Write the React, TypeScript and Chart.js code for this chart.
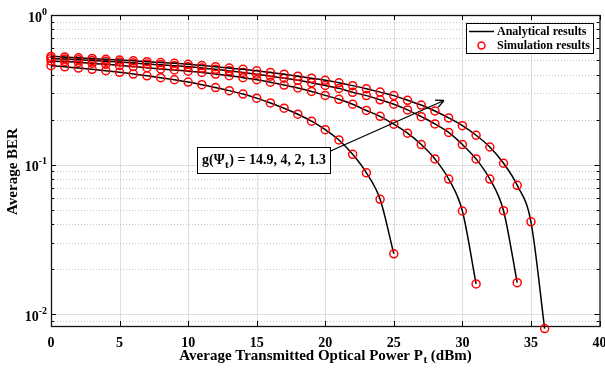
import React, { useEffect, useRef } from 'react';
import { Chart, registerables } from 'chart.js';

Chart.register(...registerables);

// Transmitted optical power (dBm)
const powers = [
  0, 1, 2, 3, 4, 5, 6, 7, 8, 9, 10, 11, 12, 13, 14, 15, 16, 17, 18, 19, 20,
  21, 22, 23, 24, 25, 26, 27, 28, 29, 30, 31, 32, 33, 34, 35, 36,
];

// Average BER for g(Psi_t) = 14.9
const ber149 = [
  0.528, 0.524, 0.517, 0.512, 0.505, 0.5, 0.494, 0.487, 0.481, 0.475, 0.468,
  0.459, 0.451, 0.442, 0.433, 0.423, 0.413, 0.402, 0.39, 0.378, 0.366, 0.352,
  0.337, 0.321, 0.305, 0.289, 0.269, 0.25, 0.228, 0.205, 0.182, 0.157, 0.131,
  0.102, 0.0726, 0.0414, 0.008,
];
// g = 4
const ber4 = [
  0.512, 0.508, 0.502, 0.496, 0.49, 0.484, 0.477, 0.471, 0.464, 0.458, 0.451,
  0.442, 0.433, 0.423, 0.413, 0.402, 0.39, 0.378, 0.366, 0.352, 0.338, 0.323,
  0.304, 0.289, 0.271, 0.253, 0.232, 0.209, 0.187, 0.164, 0.136, 0.109, 0.08,
  0.0491, 0.0162,
];
// g = 2
const ber2 = [
  0.492, 0.488, 0.482, 0.475, 0.468, 0.46, 0.452, 0.444, 0.436, 0.429, 0.421,
  0.413, 0.403, 0.393, 0.381, 0.369, 0.355, 0.34, 0.325, 0.308, 0.29, 0.273,
  0.253, 0.23, 0.21, 0.186, 0.162, 0.136, 0.109, 0.08, 0.0489, 0.0159,
];
// g = 1.3
const ber13 = [
  0.458, 0.45, 0.442, 0.433, 0.424, 0.414, 0.403, 0.392, 0.381, 0.369, 0.356,
  0.342, 0.327, 0.312, 0.296, 0.278, 0.258, 0.238, 0.217, 0.195, 0.171, 0.146,
  0.117, 0.088, 0.0585, 0.0253,
];

const seriesList = [ber149, ber4, ber2, ber13];

const xTickValues = [0, 5, 10, 15, 20, 25, 30, 35, 40];
const yDecadeValues = [1, 0.1, 0.01];
const yDecadeExponents = ['0', '-1', '-2'];

const legendLabels = ['Analytical results', 'Simulation results'];
const annotationPrefix = 'g(Ψ';
const annotationSub = 't';
const annotationSuffix = ') = 14.9, 4, 2, 1.3';
const xTitleMain = 'Average Transmitted Optical Power P';
const xTitleSub = 't';
const xTitleEnd = ' (dBm)';
const yTitle = 'Average BER';

const X_MIN = 0;
const X_MAX = 40;
const Y_MIN = 0.00832;
const Y_MAX = 1;

const FONT = '"Liberation Serif", "Times New Roman", serif';

const framePlugin = {
  id: 'matlabFrame',
  beforeDatasetsDraw(chart: any) {
    const { ctx, chartArea } = chart;
    const { left, right, top, bottom } = chartArea;
    const xs = chart.scales.x;
    const ys = chart.scales.y;
    ctx.save();
    // x grid
    ctx.strokeStyle = '#dedede';
    ctx.lineWidth = 1;
    xTickValues.forEach((v) => {
      const px = Math.round(xs.getPixelForValue(v)) + 0.5;
      if (v === X_MIN || v === X_MAX) return;
      ctx.beginPath();
      ctx.moveTo(px, top);
      ctx.lineTo(px, bottom);
      ctx.stroke();
    });
    // y grid (major solid, minor dotted)
    for (let n = -3; n <= 0; n++) {
      for (let k = 1; k <= 9; k++) {
        const v = k * Math.pow(10, n);
        if (v < Y_MIN || v > Y_MAX) continue;
        const py = Math.round(ys.getPixelForValue(v)) + 0.5;
        ctx.beginPath();
        if (k === 1) {
          ctx.setLineDash([]);
          ctx.strokeStyle = '#dedede';
        } else {
          ctx.setLineDash([1, 2]);
          ctx.strokeStyle = '#c4c4c4';
        }
        ctx.moveTo(left, py);
        ctx.lineTo(right, py);
        ctx.stroke();
      }
    }
    ctx.setLineDash([]);
    // ticks
    ctx.strokeStyle = '#000';
    ctx.lineWidth = 1;
    xTickValues.forEach((v) => {
      const px = Math.round(xs.getPixelForValue(v)) + 0.5;
      ctx.beginPath();
      ctx.moveTo(px, bottom);
      ctx.lineTo(px, bottom - 5);
      ctx.moveTo(px, top);
      ctx.lineTo(px, top + 5);
      ctx.stroke();
    });
    for (let n = -3; n <= 0; n++) {
      for (let k = 1; k <= 9; k++) {
        const v = k * Math.pow(10, n);
        if (v < Y_MIN || v > Y_MAX) continue;
        const py = Math.round(ys.getPixelForValue(v)) + 0.5;
        const len = k === 1 ? 5 : 3;
        ctx.beginPath();
        ctx.moveTo(left, py);
        ctx.lineTo(left + len, py);
        ctx.moveTo(right, py);
        ctx.lineTo(right - len, py);
        ctx.stroke();
      }
    }
    // frame
    ctx.lineWidth = 1.3;
    ctx.strokeStyle = '#111';
    ctx.strokeRect(left + 0.5, top + 0.5, right - left, bottom - top);
    ctx.restore();
  },
  afterDraw(chart: any) {
    const { ctx, chartArea } = chart;
    const { left, right, top, bottom } = chartArea;
    const xs = chart.scales.x;
    const ys = chart.scales.y;
    ctx.save();
    ctx.fillStyle = '#000';
    // x tick labels
    ctx.font = `bold 14px ${FONT}`;
    ctx.textAlign = 'center';
    ctx.textBaseline = 'middle';
    xTickValues.forEach((v) => {
      ctx.fillText(String(v), xs.getPixelForValue(v), bottom + 17);
    });
    // y tick labels 10^n
    yDecadeValues.forEach((v, i) => {
      const py = ys.getPixelForValue(v);
      ctx.font = `bold 10px ${FONT}`;
      const sup = yDecadeExponents[i];
      const sw = ctx.measureText(sup).width;
      const endX = left - 4;
      ctx.textAlign = 'left';
      ctx.fillText(sup, endX - sw, py - 3);
      ctx.font = `bold 14px ${FONT}`;
      ctx.textAlign = 'right';
      ctx.fillText('10', endX - sw, py + 3);
    });
    // x title
    ctx.font = `bold 15px ${FONT}`;
    const w1 = ctx.measureText(xTitleMain).width;
    const w3 = ctx.measureText(xTitleEnd).width;
    ctx.font = `bold 11px ${FONT}`;
    const w2 = ctx.measureText(xTitleSub).width;
    const total = w1 + w2 + w3;
    let sx = (left + right) / 2 - total / 2;
    const ty = 356;
    ctx.textAlign = 'left';
    ctx.font = `bold 15px ${FONT}`;
    ctx.fillText(xTitleMain, sx, ty);
    sx += w1;
    ctx.font = `bold 11px ${FONT}`;
    ctx.fillText(xTitleSub, sx + 0.5, ty + 4);
    sx += w2 + 0.5;
    ctx.font = `bold 15px ${FONT}`;
    ctx.fillText(xTitleEnd, sx, ty);
    // y title
    ctx.save();
    ctx.translate(13, 171.5);
    ctx.rotate(-Math.PI / 2);
    ctx.textAlign = 'center';
    ctx.font = `bold 15px ${FONT}`;
    ctx.fillText(yTitle, 0, 0);
    ctx.restore();

    // legend
    const lx = 466.5;
    const ly = 23.5;
    const lw = 127;
    const lh = 30;
    ctx.fillStyle = '#fff';
    ctx.fillRect(lx, ly, lw, lh);
    ctx.strokeStyle = '#000';
    ctx.lineWidth = 1;
    ctx.strokeRect(lx, ly, lw, lh);
    ctx.beginPath();
    ctx.lineWidth = 1.5;
    ctx.moveTo(469, 31.5);
    ctx.lineTo(494, 31.5);
    ctx.stroke();
    ctx.beginPath();
    ctx.strokeStyle = '#ff0000';
    ctx.lineWidth = 1.5;
    ctx.arc(481.5, 45.5, 3.5, 0, Math.PI * 2);
    ctx.stroke();
    ctx.fillStyle = '#000';
    ctx.font = `bold 12px ${FONT}`;
    ctx.textAlign = 'left';
    ctx.textBaseline = 'middle';
    ctx.fillText(legendLabels[0], 497, 32);
    ctx.fillText(legendLabels[1], 497, 46);

    // annotation arrow
    ctx.strokeStyle = '#000';
    ctx.lineWidth = 1.3;
    const ax0 = 330.5;
    const ay0 = 151;
    const ax1 = 444;
    const ay1 = 100.5;
    ctx.beginPath();
    ctx.moveTo(ax0, ay0);
    ctx.lineTo(ax1, ay1);
    const ang = Math.atan2(ay1 - ay0, ax1 - ax0);
    const hl = 9;
    ctx.moveTo(ax1, ay1);
    ctx.lineTo(ax1 - hl * Math.cos(ang - 0.45), ay1 - hl * Math.sin(ang - 0.45));
    ctx.moveTo(ax1, ay1);
    ctx.lineTo(ax1 - hl * Math.cos(ang + 0.45), ay1 - hl * Math.sin(ang + 0.45));
    ctx.stroke();
    // annotation box
    const bx = 197.5;
    const by = 147.5;
    ctx.fillStyle = '#fff';
    ctx.fillRect(bx, by, 133, 26);
    ctx.lineWidth = 1;
    ctx.strokeRect(bx, by, 133, 26);
    ctx.fillStyle = '#000';
    let tx = 202;
    const tyy = 160;
    ctx.font = `bold 14px ${FONT}`;
    ctx.fillText(annotationPrefix, tx, tyy);
    tx += ctx.measureText(annotationPrefix).width;
    ctx.font = `bold 11px ${FONT}`;
    ctx.fillText(annotationSub, tx + 0.5, tyy + 5);
    tx += ctx.measureText(annotationSub).width + 1;
    ctx.font = `bold 14px ${FONT}`;
    ctx.fillText(annotationSuffix, tx, tyy);
    ctx.restore();
  },
};

export default function App() {
  const canvasRef = useRef<HTMLCanvasElement | null>(null);

  useEffect(() => {
    const canvas = canvasRef.current;
    if (!canvas) return;
    const datasets = seriesList.map((vals, si) => ({
      label: `series${si}`,
      data: vals.map((y, i) => ({ x: powers[i], y })),
      borderColor: '#000',
      borderWidth: 1.5,
      pointRadius: 4,
      pointBorderColor: '#ff0000',
      pointBorderWidth: 1.5,
      pointBackgroundColor: 'rgba(0,0,0,0)',
      cubicInterpolationMode: 'monotone' as const,
      fill: false,
      clip: false as any,
    }));
    const chart = new Chart(canvas, {
      type: 'line',
      data: { datasets },
      options: {
        animation: false,
        responsive: false,
        devicePixelRatio: 1,
        layout: { padding: { left: 51, right: 4, top: 15, bottom: 44 } },
        plugins: { legend: { display: false }, tooltip: { enabled: false } },
        scales: {
          x: {
            type: 'linear',
            min: X_MIN,
            max: X_MAX,
            display: false,
          },
          y: {
            type: 'logarithmic',
            min: Y_MIN,
            max: Y_MAX,
            display: false,
          },
        },
      },
      plugins: [framePlugin],
    });
    return () => chart.destroy();
  }, []);

  return (
    <div style={{ position: 'absolute', left: 0, top: 0, width: 605, height: 370, background: '#fff' }}>
      <canvas ref={canvasRef} width={605} height={370} style={{ display: 'block' }} />
    </div>
  );
}
